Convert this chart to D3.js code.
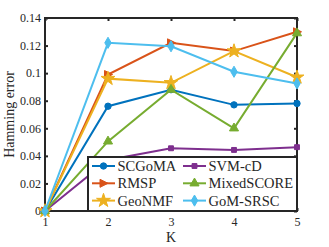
<!DOCTYPE html>
<html lang="en">
<head>
  <meta charset="UTF-8">
  <title>Hamming error vs K</title>
  <style>
    body, html { margin: 0; padding: 0; background: #fff; }
    svg { display: block; }
  </style>
</head>
<body>
  <svg id="svg" width="329" height="247"></svg>

  <script src="https://d3js.org/d3.v7.min.js"></script>
  <script>
    // data
    const ks = [1, 2, 3, 4, 5]
    const yTicks = [0, 0.02, 0.04, 0.06, 0.08, 0.1, 0.12, 0.14]
    const names = ['SCGoMA', 'RMSP', 'GeoNMF', 'SVM-cD', 'MixedSCORE', 'GoM-SRSC']
    const scgoma = [0, 0.076, 0.088, 0.077, 0.078]
    const rmsp = [0, 0.099, 0.122, 0.116, 0.130]
    const geonmf = [0, 0.096, 0.093, 0.116, 0.097]
    const svmcd = [0, 0.037, 0.0455, 0.0443, 0.0463]
    const mixedscore = [0, 0.0505, 0.088, 0.060, 0.129]
    const gomsrsc = [0, 0.122, 0.1195, 0.101, 0.0925]

    const series = [scgoma, rmsp, geonmf, svmcd, mixedscore, gomsrsc]
    const colors = ['#0072BD', '#D95319', '#EDB120', '#7E2F8E', '#77AC30', '#4DBEEE']
    const symbols = [d3.symbolCircle, 'right', d3.symbolStar, d3.symbolSquare, d3.symbolTriangle, d3.symbolDiamond]
    const sizes = [32, 40, 60, 24, 36, 36]

    const serif = "'Liberation Serif', 'Times New Roman', 'DejaVu Serif', serif"
    const margin = { left: 45, right: 32, top: 18, bottom: 36 }
    const width = 329, height = 247
    const svg = d3.select('#svg')

    const x = d3.scaleLinear().domain([1, 5]).range([margin.left, width - margin.right])
    const y = d3.scaleLinear().domain([0, 0.14]).range([height - margin.bottom, margin.top])

    const axisColor = '#262626'

    // axes (ticks inward)
    const xAxis = svg.append('g')
      .attr('transform', `translate(0, ${y(0)})`)
      .call(d3.axisBottom(x).tickValues(ks).tickSize(-3).tickPadding(6).tickFormat(d3.format('d')))
    const xTop = svg.append('g')
      .attr('transform', `translate(0, ${y(0.14)})`)
      .call(d3.axisTop(x).tickValues(ks).tickSize(-3).tickFormat(''))
    const yAxis = svg.append('g')
      .attr('transform', `translate(${x(1)}, 0)`)
      .call(d3.axisLeft(y).tickValues(yTicks).tickSize(-3).tickPadding(4).tickFormat(d => d === 0 ? '0' : String(+d.toFixed(2))))
    const yRight = svg.append('g')
      .attr('transform', `translate(${x(5)}, 0)`)
      .call(d3.axisRight(y).tickValues(yTicks).tickSize(-3).tickFormat(''))

    ;[xAxis, xTop, yAxis, yRight].forEach(g => {
      g.attr('font-family', null)
      g.select('.domain').remove()
      g.selectAll('line').attr('stroke', axisColor).attr('stroke-width', 2)
      g.selectAll('text')
        .style('font-family', serif)
        .style('font-size', '12px')
        .attr('fill', axisColor)
    })

    // box
    svg.append('rect')
      .attr('x', x(1)).attr('y', y(0.14))
      .attr('width', x(5) - x(1)).attr('height', y(0) - y(0.14))
      .attr('fill', 'none').attr('stroke', axisColor).attr('stroke-width', 2)

    // axis labels
    svg.append('text')
      .text('K')
      .attr('x', (x(1) + x(5)) / 2).attr('y', 242)
      .attr('text-anchor', 'middle')
      .style('font-family', serif).style('font-size', '14px').attr('fill', axisColor)
    svg.append('text')
      .text('Hamming error')
      .attr('transform', `translate(14, ${(y(0) + y(0.14)) / 2}) rotate(-90)`)
      .attr('text-anchor', 'middle')
      .style('font-family', serif).style('font-size', '14px').attr('fill', axisColor)

    const marker = (i, sel) => {
      if (symbols[i] === 'right') {
        sel.append('path').attr('d', 'M-3.5,-4L4.5,0L-3.5,4Z')
      } else {
        sel.append('path').attr('d', d3.symbol().type(symbols[i]).size(sizes[i]))
      }
      sel.select('path').attr('fill', colors[i]).attr('stroke', colors[i]).attr('stroke-width', 1)
    }

    const line = d3.line().x((d, j) => x(ks[j])).y(d => y(d))

    series.forEach((vals, i) => {
      svg.append('path')
        .datum(vals)
        .attr('d', line)
        .attr('fill', 'none')
        .attr('stroke', colors[i])
        .attr('stroke-width', 2)
      svg.selectAll(null)
        .data(vals)
        .join('g')
        .attr('transform', (d, j) => `translate(${x(ks[j])}, ${y(d)})`)
        .each(function () { marker(i, d3.select(this)) })
    })

    // legend, filled column by column
    const lg = svg.append('g')
    lg.append('rect')
      .attr('x', 88).attr('y', 157)
      .attr('width', x(5) - 88).attr('height', y(0) - 157)
      .attr('fill', '#fff').attr('stroke', axisColor).attr('stroke-width', 2)

    names.forEach((name, i) => {
      const col = Math.floor(i / 3), row = i % 3
      const lx = col === 0 ? 92 : 183
      const ly = 166 + row * 17.3
      const item = lg.append('g')
      item.append('line')
        .attr('x1', lx).attr('x2', lx + 23)
        .attr('y1', ly).attr('y2', ly)
        .attr('stroke', colors[i]).attr('stroke-width', 2)
      const m = item.append('g').attr('transform', `translate(${lx + 11.5}, ${ly})`)
      marker(i, m)
      item.append('text')
        .text(name)
        .attr('x', lx + 25.5).attr('y', ly + 5)
        .style('font-family', serif).style('font-size', '14.5px').attr('fill', axisColor)
    })
  </script>
</body>
</html>
